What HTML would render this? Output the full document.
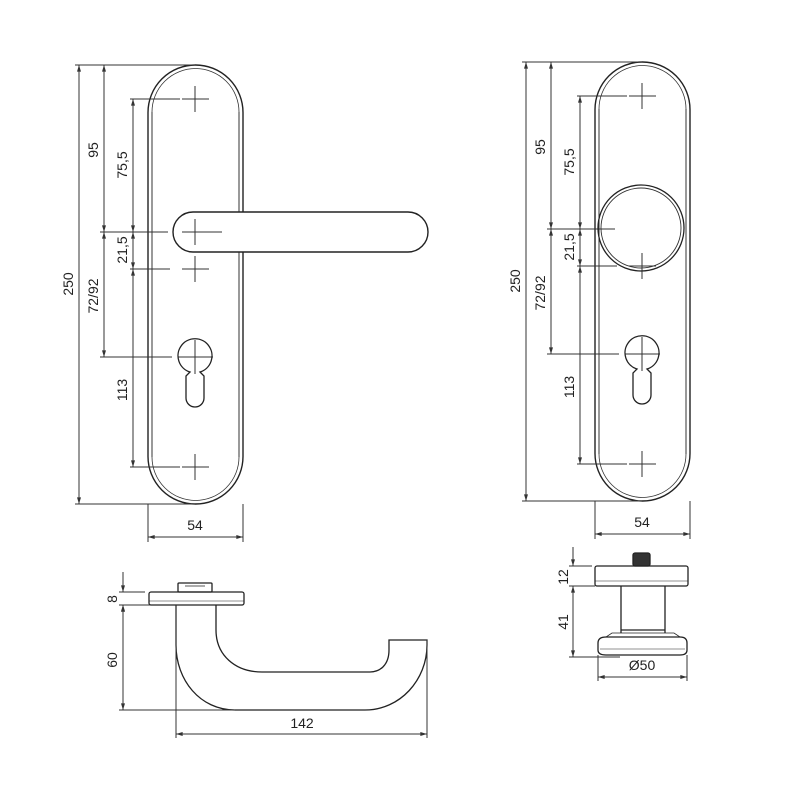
<!DOCTYPE html>
<html><head><meta charset="utf-8"><style>
html,body{margin:0;padding:0;background:#fff}
svg{display:block}
text{font-family:"Liberation Sans",sans-serif;font-size:14px;fill:#222}
</style></head><body>
<svg width="800" height="800" viewBox="0 0 800 800" xmlns="http://www.w3.org/2000/svg">
<defs>
<marker id="a" viewBox="0 0 10 6" refX="10" refY="3" markerWidth="7" markerHeight="4" orient="auto-start-reverse"><path d="M0,0 L10,3 L0,6 z" fill="#333"/></marker>
<g id="plate">
  <rect x="148" y="65" width="95" height="439" rx="47.5" fill="none" stroke="#222" stroke-width="1.4"/>
  <path d="M152,112 V457 M239,112 V457" stroke="#333" stroke-width="1" fill="none"/>
  <path d="M152,112 A43,43 0 0 1 239,112" stroke="#333" fill="none" stroke-width="0.8"/>
  <path d="M152,457 A43,43 0 0 0 239,457" stroke="#333" fill="none" stroke-width="0.8"/>
  <g stroke="#333" stroke-width="1">
    <path d="M182,99 H209 M195,86 V112"/>
    <path d="M182,269 H209 M195,256 V282"/>
    <path d="M182,467 H209 M195,454 V480"/>
    <path d="M178,357 H213 M195,340 V374"/>
  </g>
  <path d="M190,372 A17,17 0 1 1 200,372 L204,376 V398 A9,9 0 0 1 186,398 V376 Z" fill="none" stroke="#222" stroke-width="1.3"/>
  <g stroke="#333" stroke-width="1" fill="none">
    <path d="M75,65 H195 M75,504 H195"/>
    <path d="M130,99 H180"/>
    <path d="M100,232 H168"/>
    <path d="M130,269 H170"/>
    <path d="M100,357 H172"/>
    <path d="M130,467 H180"/>
    <path d="M148,504 V542 M243,504 V542"/>
    <path d="M79,65 V504" marker-start="url(#a)" marker-end="url(#a)"/>
    <path d="M104,65 V232" marker-start="url(#a)" marker-end="url(#a)"/>
    <path d="M104,232 V357" marker-start="url(#a)" marker-end="url(#a)"/>
    <path d="M133,99 V232" marker-start="url(#a)" marker-end="url(#a)"/>
    <path d="M133,232 V269" marker-start="url(#a)" marker-end="url(#a)"/>
    <path d="M133,269 V467" marker-start="url(#a)" marker-end="url(#a)"/>
    <path d="M148,537 H243" marker-start="url(#a)" marker-end="url(#a)"/>
  </g>
  <text transform="translate(73,284) rotate(-90)" text-anchor="middle">250</text>
  <text transform="translate(98,150) rotate(-90)" text-anchor="middle">95</text>
  <text transform="translate(127,165) rotate(-90)" text-anchor="middle">75,5</text>
  <text transform="translate(127,250) rotate(-90)" text-anchor="middle">21,5</text>
  <text transform="translate(98,296) rotate(-90)" text-anchor="middle">72/92</text>
  <text transform="translate(127,390) rotate(-90)" text-anchor="middle">113</text>
  <text x="195" y="530" text-anchor="middle">54</text>
</g>
</defs>

<use href="#plate"/>
<rect x="173" y="212" width="255" height="40" rx="20" fill="#fff" stroke="#222" stroke-width="1.4"/>
<path d="M182,232 H222 M195,219 V245" stroke="#333" stroke-width="1"/>

<g transform="translate(447,-3)"><use href="#plate"/></g>
<circle cx="641" cy="228" r="43" fill="none" stroke="#222" stroke-width="1.3"/>
<circle cx="641" cy="228" r="40" fill="none" stroke="#333" stroke-width="0.9"/>

<g stroke="#222" fill="none" stroke-width="1.3">
  <rect x="149" y="592" width="95" height="13" rx="2"/>
  <path d="M149,601 H244" stroke-width="0.6"/>
  <rect x="178" y="583" width="34" height="9" rx="1"/>
  <path d="M185,586 H205" stroke-width="0.8"/>
  <path d="M176,605 V645 C176,680 200,710 235,710 H365 C400,710 427,680 427,645 V640 H389 V650 C389,665 380,672 370,672 H262 C235,672 216,655 216,630 V605"/>
</g>
<g stroke="#333" stroke-width="1" fill="none">
  <path d="M119,592 H145 M119,605 H150 M119,710 H235 M176,605 V738 M427,640 V738"/>
  <path d="M123,572 V592" marker-end="url(#a)"/>
  <path d="M123,625 V605" marker-end="url(#a)"/>
  <path d="M123,605 V710" marker-start="url(#a)" marker-end="url(#a)"/>
  <path d="M176,734 H427" marker-start="url(#a)" marker-end="url(#a)"/>
</g>
<text transform="translate(117,599) rotate(-90)" text-anchor="middle">8</text>
<text transform="translate(117,660) rotate(-90)" text-anchor="middle">60</text>
<text x="302" y="728" text-anchor="middle">142</text>

<g stroke="#222" fill="none" stroke-width="1.3">
  <rect x="595" y="566" width="93" height="20" rx="2"/>
  <path d="M595,581 H688" stroke-width="0.6"/>
  <rect x="633" y="553" width="17" height="13" rx="2" fill="#333"/>
  <path d="M621,586 V633 M665,586 V633 M621,630 H665"/>
  <path d="M606,637 H680 Q687,637 687,643 V650 Q687,655 680,655 H606 Q598,655 598,650 V643 Q598,637 606,637 Z"/>
  <path d="M600,649 H685" stroke-width="0.6"/>
  <path d="M612,633 H674 L680,637 H606 Z" stroke-width="0.8"/>
</g>
<g stroke="#333" stroke-width="1" fill="none">
  <path d="M569,566 H592 M569,586 H595 M569,657 H620 M598,655 V681 M687,655 V681"/>
  <path d="M573,547 V566" marker-end="url(#a)"/>
  <path d="M573,586 V657" marker-start="url(#a)" marker-end="url(#a)"/>
  <path d="M598,677 H687" marker-start="url(#a)" marker-end="url(#a)"/>
</g>
<text transform="translate(568,577) rotate(-90)" text-anchor="middle">12</text>
<text transform="translate(568,622) rotate(-90)" text-anchor="middle">41</text>
<text x="642" y="670" text-anchor="middle">Ø50</text>
</svg>
</body></html>
